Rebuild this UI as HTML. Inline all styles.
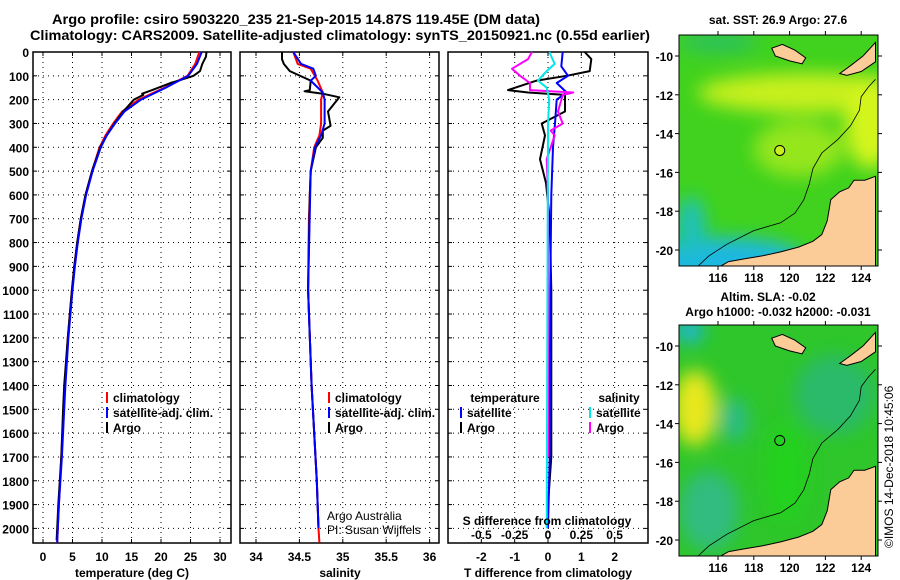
<!DOCTYPE html>
<html><head><meta charset="utf-8"><style>
html,body{margin:0;padding:0;background:#fff;}
svg{display:block;font-family:"Liberation Sans",sans-serif;}
.t{font-size:12px;font-weight:bold;fill:#000;}
.ttl{font-size:14px;font-weight:bold;fill:#000;}
</style></head><body>
<svg id="chart" width="900" height="580" viewBox="0 0 900 580" xmlns="http://www.w3.org/2000/svg">
<text class="ttl" x="296" y="24" text-anchor="middle" textLength="488" lengthAdjust="spacingAndGlyphs">Argo profile: csiro 5903220_235 21-Sep-2015 14.87S 119.45E (DM data)</text>
<text class="ttl" x="340" y="40" text-anchor="middle" textLength="620" lengthAdjust="spacingAndGlyphs">Climatology: CARS2009. Satellite-adjusted climatology: synTS_20150921.nc (0.55d earlier)</text>
<g id="plots"></g>
<g id="maps"></g>
<text class="t" x="778" y="24" text-anchor="middle">sat. SST: 26.9 Argo: 27.6</text>
<text class="t" x="768" y="301" text-anchor="middle">Altim. SLA: -0.02</text>
<text class="t" x="778" y="316" text-anchor="middle">Argo h1000: -0.032 h2000: -0.031</text>
<text x="0" y="0" font-size="12" transform="translate(893,548) rotate(-90)">©IMOS 14-Dec-2018 10:45:06</text>
</svg>
<script>
// ---- data ----
const depthTempArgo=[0,20,50,80,100,120,130,160,175,180,200,250,300,350,400,500,600,700,800,900,1000,1200,1400,1500,1700,1900,2000,2050];
const tempArgo=[27.7,27.6,27.0,26.6,25.5,23.0,21.6,18.5,16.8,17.0,15.4,13.6,12.1,10.8,9.7,8.3,7.2,6.4,5.8,5.3,4.9,4.2,3.6,3.4,3.1,2.6,2.4,2.3];
const depthTempClim=[0,50,100,150,200,250,300,350,400,500,600,700,800,900,1000,1200,1400,1500,1700,1900,2000,2060];
const tempClim=[26.5,25.8,24.5,20.6,16.2,13.4,11.9,10.6,9.6,8.3,7.2,6.4,5.8,5.3,4.9,4.2,3.7,3.5,3.1,2.7,2.5,2.4];
const tempSat=[26.9,26.1,24.6,20.8,16.6,13.8,12.2,10.8,9.8,8.4,7.3,6.5,5.9,5.4,5.0,4.3,3.8,3.6,3.2,2.7,2.5,2.4];
const depthSalArgo=[0,30,50,80,120,160,165,175,190,250,310,330,360,400,500,600,800,1000,1400,1600,1800,2000];
const salArgo=[34.30,34.30,34.32,34.39,34.63,34.62,34.56,34.77,34.96,34.83,34.86,34.77,34.77,34.69,34.63,34.62,34.61,34.60,34.64,34.67,34.70,34.72];
const depthSalClim=[0,50,70,120,170,200,300,350,400,500,700,1000,1400,1600,1800,2000,2060];
const salClim=[34.43,34.48,34.63,34.71,34.77,34.75,34.75,34.73,34.67,34.63,34.61,34.60,34.64,34.67,34.70,34.72,34.73];
const depthSalSat=[0,50,70,100,120,170,200,300,350,400,500,1000,1400,1600,1800,2000];
const salSat=[34.43,34.52,34.66,34.69,34.63,34.77,34.79,34.79,34.75,34.68,34.63,34.60,34.64,34.67,34.70,34.72];
const depthTdArgo=[0,30,80,100,120,160,170,180,250,300,350,450,550,700,1000,1700,1900,2000];
const tdArgo=[1.1,1.3,1.25,0.56,-0.34,-1.2,-0.6,0.51,0.51,-0.19,-0.09,-0.24,-0.06,0.05,0.1,0.1,0.0,0.0];
const depthTdSat=[0,60,100,130,170,200,300,400,600,1000,1700,2000];
const tdSat=[0.44,0.4,0.6,0.26,0.56,0.26,0.21,0.15,0.1,0.07,0.05,0.0];
const depthSdArgo=[0,30,70,100,130,160,170,180,250,300,330,350,450,600,1700];
const sdArgo=[-0.12,-0.15,-0.27,-0.21,-0.135,-0.135,0.19,0.11,0.075,0.11,0.02,0.05,-0.01,0,0];
const depthSdSat=[0,50,80,120,150,200,300,2000];
const sdSat=[0.01,0.05,-0.01,-0.075,-0.01,0.01,0,-0.01];
const depthTicks=[0,100,200,300,400,500,600,700,800,900,1000,1100,1200,1300,1400,1500,1600,1700,1800,1900,2000];
const tempTicks=[0,5,10,15,20,25,30];
const salTicks=[34,34.5,35,35.5,36];
const salTickLabels=["34","34.5","35","35.5","36"];
const tdTicks=[-2,-1,0,1,2];
const sdTicks=[-0.5,-0.25,0,0.25,0.5];
const sdTickLabels=["-0.5","-0.25","0","0.25","0.5"];
const latTicks=[-10,-12,-14,-16,-18,-20];
const lonTicks=[116,118,120,122,124];
const floatLon=119.45, floatLat=-14.87;

const NS="http://www.w3.org/2000/svg";
function mk(tag,attrs,parent){const e=document.createElementNS(NS,tag);for(const k in attrs)e.setAttribute(k,attrs[k]);parent.appendChild(e);return e;}
const plots=document.getElementById('plots');
const Y0=52,YS=0.2382;
const ty=d=>Y0+d*YS;
const PB=543;
function panel(name,x0,x1,lo,hi){return {name,x0,x1,sx:v=>x0+(v-lo)/(hi-lo)*(x1-x0)};}
const P1=panel('temperature',33,231,-1.695,31.86);
const P2=panel('salinity',240,439,33.8157,36.1083);
const P3=panel('difference',448,648,-3,3);
const sdx=v=>548+v*133.3;

function grid(p,xs,g){
  depthTicks.forEach(d=>{const l=mk('line',{x1:p.x0,x2:p.x1,y1:ty(d),y2:ty(d),stroke:'#000','stroke-width':1,'stroke-dasharray':'1 4'},g);
  
  mk('line',{x1:p.x0,x2:p.x0+4,y1:ty(d),y2:ty(d),stroke:'#000'},g);mk('line',{x1:p.x1-4,x2:p.x1,y1:ty(d),y2:ty(d),stroke:'#000'},g);});
  xs.forEach(x=>{const l=mk('line',{x1:x,x2:x,y1:Y0,y2:PB,stroke:'#000','stroke-dasharray':'1 4'},g);
  
  mk('line',{x1:x,x2:x,y1:PB-4,y2:PB,stroke:'#000'},g);mk('line',{x1:x,x2:x,y1:Y0,y2:Y0+4,stroke:'#000'},g);});
  const r=mk('rect',{x:p.x0,y:Y0,width:p.x1-p.x0,height:PB-Y0,fill:'none',stroke:'#000','stroke-width':1.5},g);
  
}
function line(xs,ds,fx,color,w,g,name){
  const pts=xs.map((v,i)=>fx(v).toFixed(1)+','+ty(ds[i]).toFixed(1)).join(' ');
  const e=mk('polyline',{points:pts,fill:'none',stroke:color,'stroke-width':w,'stroke-linejoin':'round'},g);
  
}
function text(x,y,s,g,name,anchor,cls){const e=mk('text',{x,y,'text-anchor':anchor||'middle',class:cls||'t'},g);e.textContent=s;
  return e;}
function legend(x,y,color,label,g,name){mk('line',{x1:x,x2:x,y1:y-10,y2:y+1,stroke:color,'stroke-width':2},g);
  text(x+6,y,label,g,name,'start');}

// Panel 1
let g=mk('g',{},plots);
grid(P1,tempTicks.map(P1.sx),g);
depthTicks.forEach(d=>text(29,ty(d)+5,String(d),g,'depth-tick-label','end'));
tempTicks.forEach(t=>text(P1.sx(t),561,String(t),g,'temp-tick-label'));
text(132,577,'temperature (deg C)',g,'x-axis-title-temperature');
line(tempClim,depthTempClim,P1.sx,'#ff0000',2,g,'temp-climatology-line');
line(tempArgo,depthTempArgo,P1.sx,'#000',2,g,'temp-argo-line');
line(tempSat,depthTempClim,P1.sx,'#0000ff',2,g,'temp-satellite-line');
legend(107,402,'#ff0000','climatology',g,'legend-climatology');
legend(107,417,'#0000ff','satellite-adj. clim.',g,'legend-satellite');
legend(107,432,'#000','Argo',g,'legend-argo');

// Panel 2
g=mk('g',{},plots);
grid(P2,salTicks.map(P2.sx),g);
salTicks.forEach((t,i)=>text(P2.sx(t),561,salTickLabels[i],g,'sal-tick-label'));
text(340,577,'salinity',g,'x-axis-title-salinity');
line(salClim,depthSalClim,P2.sx,'#ff0000',2,g,'sal-climatology-line');
line(salArgo,depthSalArgo,P2.sx,'#000',2,g,'sal-argo-line');
line(salSat,depthSalSat,P2.sx,'#0000ff',2,g,'sal-satellite-line');
legend(329,402,'#ff0000','climatology',g,'legend-climatology');
legend(329,417,'#0000ff','satellite-adj. clim.',g,'legend-satellite');
legend(329,432,'#000','Argo',g,'legend-argo');
text(327,520,'Argo Australia',g,'credit-argo-australia','start','n').setAttribute('font-size','12');
text(327,534,'PI: Susan Wijffels',g,'credit-pi','start','n').setAttribute('font-size','12');

// Panel 3
g=mk('g',{},plots);
grid(P3,sdTicks.map(sdx),g);
tdTicks.forEach(t=>text(P3.sx(t),561,String(t),g,'tdiff-tick-label'));
text(548,577,'T difference from climatology',g,'x-axis-title-tdiff');
line(tdArgo,depthTdArgo,P3.sx,'#000',2,g,'tdiff-argo-line');
line(tdSat,depthTdSat,P3.sx,'#0000ff',2,g,'tdiff-satellite-line');
line(sdArgo,depthSdArgo,sdx,'#ff00ff',2,g,'sdiff-argo-line');
line(sdSat,depthSdSat,sdx,'#00e8e8',2,g,'sdiff-satellite-line');
text(505,402,'temperature',g,'legend-temperature-heading');
text(619,402,'salinity',g,'legend-salinity-heading');
legend(461,417,'#0000ff','satellite',g,'legend-tdiff-satellite');
legend(461,432,'#000','Argo',g,'legend-tdiff-argo');
legend(590,417,'#00e8e8','satellite',g,'legend-sdiff-satellite');
legend(590,432,'#ff00ff','Argo',g,'legend-sdiff-argo');
text(547,525,'S difference from climatology',g,'s-diff-axis-title');
sdTicks.forEach((t,i)=>text(sdx(t),539,sdTickLabels[i],g,'sdiff-tick-label'));

// Maps
const maps=document.getElementById('maps');
const defs=mk('defs',{},maps);
const f=mk('filter',{id:'bl',x:'-50%',y:'-50%',width:'200%',height:'200%'},defs);mk('feGaussianBlur',{stdDeviation:9},f);
const land=[[114.3,-20.9],[116,-20.9],[116.6,-20.6],[117.5,-20.45],[118.5,-20.3],[119.5,-20.1],[120.5,-19.85],[121.3,-19.55],[121.8,-19.2],[122.1,-18.5],[122.3,-17.4],[122.8,-17.0],[123.3,-16.8],[123.6,-16.4],[124.2,-16.4],[124.8,-16.2],[124.8,-20.9]];
const timor=[[119.0,-9.6],[119.6,-9.4],[120.3,-9.7],[120.9,-10.1],[120.7,-10.4],[120.0,-10.25],[119.2,-10.0]];
const timor2=[[122.8,-10.9],[123.4,-10.5],[124.1,-10.0],[124.8,-9.3],[124.8,-10.3],[124.0,-10.8],[123.2,-11.0]];
const contour=[[114.8,-20.9],[115.5,-20.3],[116.5,-19.7],[118,-19.0],[119.5,-18.6],[120.3,-18.1],[120.8,-17.4],[121.1,-16.6],[121.3,-15.8],[121.8,-15.0],[122.7,-14.3],[123.4,-13.6],[123.9,-12.8],[124.0,-12.1],[124.4,-11.6],[124.8,-11.2]];
function drawMap(top,kind){
  const X0=679,X1=878,bot=top+231;
  const lx=v=>718+(v-116)*17.9, ly=v=>top+21+(-10-v)*19.4;
  const mg=mk('g',{},maps);
  const cp=mk('clipPath',{id:'cp'+kind},defs);mk('rect',{x:X0,y:top,width:X1-X0,height:bot-top},cp);
  const inner=mk('g',{'clip-path':'url(#cp'+kind+')'},mg);
  if(kind==='sst'){
    mk('rect',{x:X0,y:top,width:X1-X0,height:bot-top,fill:'#40d21e'},inner);
    const b=mk('g',{filter:'url(#bl)'},inner);
    mk('ellipse',{cx:lx(121),cy:ly(-11.9),rx:110,ry:20,fill:'#c8f01e'},b);
    mk('ellipse',{cx:lx(120.5),cy:ly(-14.8),rx:45,ry:28,fill:'#96e61e'},b);
    mk('ellipse',{cx:lx(124.5),cy:ly(-13.5),rx:25,ry:45,fill:'#d4f51e'},b);
    mk('ellipse',{cx:lx(116.5),cy:ly(-20.6),rx:80,ry:24,fill:'#1ab8e0'},b);
    mk('ellipse',{cx:lx(114.5),cy:ly(-18.8),rx:14,ry:30,fill:'#1ec0c0'},b);
    mk('ellipse',{cx:lx(116),cy:ly(-9.3),rx:40,ry:10,fill:'#2cc060'},b);
  } else {
    mk('rect',{x:X0,y:top,width:X1-X0,height:bot-top,fill:'#2ec62a'},inner);
    const b=mk('g',{filter:'url(#bl)'},inner);
    mk('ellipse',{cx:lx(114.7),cy:ly(-13.2),rx:22,ry:38,fill:'#e8e81e'},b);
    mk('ellipse',{cx:lx(116.9),cy:ly(-13.8),rx:14,ry:22,fill:'#2cbc8a'},b);
    mk('ellipse',{cx:lx(115.5),cy:ly(-18.5),rx:30,ry:40,fill:'#30bc80'},b);
    mk('ellipse',{cx:lx(114.4),cy:ly(-9.2),rx:14,ry:12,fill:'#1eb4e8'},b);
    mk('ellipse',{cx:lx(122.5),cy:ly(-12.5),rx:40,ry:40,fill:'#2aba6a'},b);
    mk('ellipse',{cx:lx(119.8),cy:ly(-16.5),rx:20,ry:50,fill:'#20d21a'},b);
  }
  const poly=(pts,fill,stroke,w,name)=>{const e=mk('polygon',{points:pts.map(p=>lx(p[0]).toFixed(1)+','+ly(p[1]).toFixed(1)).join(' '),fill,stroke,'stroke-width':w},inner);
    };
  poly(land,'#fccc98','#000',1,'land-australia');
  poly(timor,'#fccc98','#000',1,'land-island');
  poly(timor2,'#fccc98','#000',1,'land-timor');
  const c=mk('polyline',{points:contour.map(p=>lx(p[0]).toFixed(1)+','+ly(p[1]).toFixed(1)).join(' '),fill:'none',stroke:'#000','stroke-width':0.8},inner);
  
  const m=mk('circle',{cx:lx(floatLon),cy:ly(floatLat),r:5,fill:kind==='sst'?'#c8f01e':'none',stroke:'#000','stroke-width':1},mg);
  
  const fr=mk('rect',{x:X0,y:top,width:X1-X0,height:bot-top,fill:'none',stroke:'#000','stroke-width':1},mg);
  
  latTicks.forEach(v=>{mk('line',{x1:X0-4,x2:X0,y1:ly(v),y2:ly(v),stroke:'#000'},mg);mk('line',{x1:X1,x2:X1+4,y1:ly(v),y2:ly(v),stroke:'#000'},mg);
    text(673,ly(v)+5,String(v),mg,'lat-tick-label','end');});
  lonTicks.forEach(v=>{mk('line',{x1:lx(v),x2:lx(v),y1:bot,y2:bot+4,stroke:'#000'},mg);mk('line',{x1:lx(v),x2:lx(v),y1:top-4,y2:top,stroke:'#000'},mg);
    text(lx(v),bot+16,String(v),mg,'lon-tick-label');});
}
drawMap(35,'sst');
drawMap(325,'sla');
</script>
</body></html>
